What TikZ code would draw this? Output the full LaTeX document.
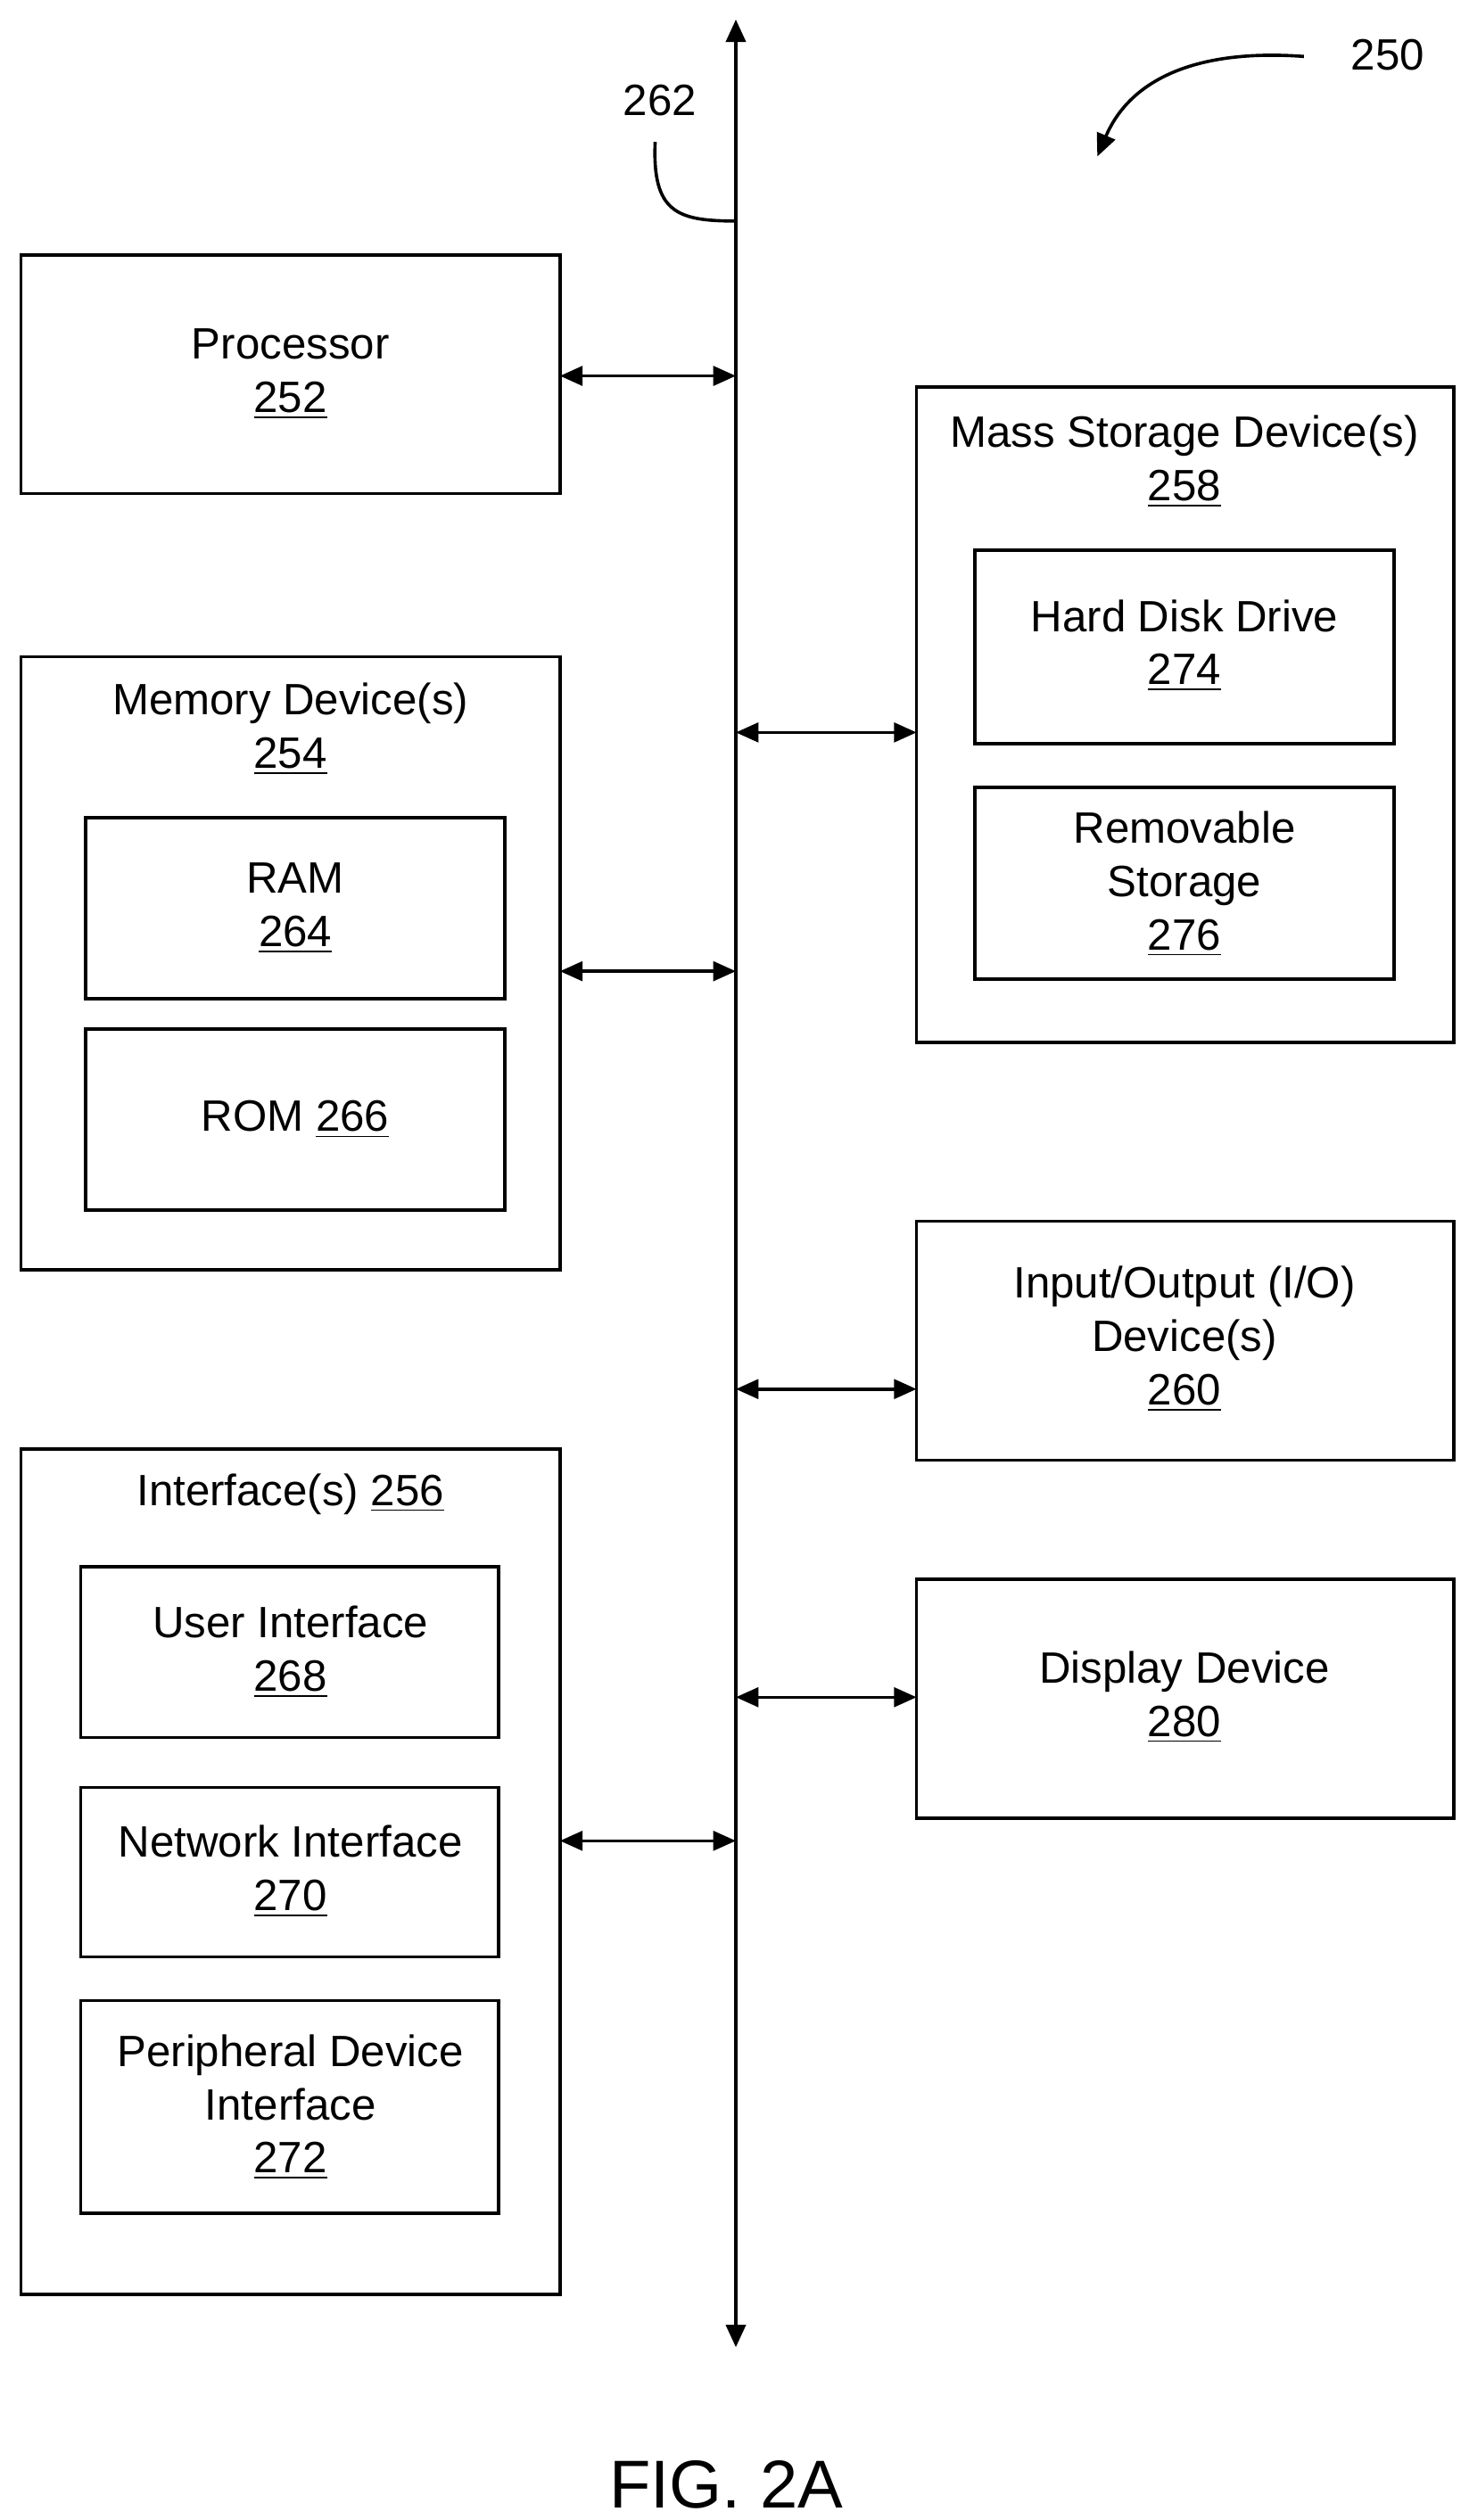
\documentclass[tikz,border=0pt]{standalone}
\usepackage{fontspec}
\setmainfont{Liberation Sans}
\usetikzlibrary{arrows.meta,fit}
\tikzset{
  box/.style={draw, line width=1pt, inner sep=0pt},
  lbl/.style={font=\fontsize{13.6}{16.5}\selectfont, align=center, inner sep=0pt},
  tip/.style={Triangle[length=7pt,width=6pt]},
  link/.style={line width=1pt, {Triangle[length=7pt,width=6pt]}-{Triangle[length=7pt,width=6pt]}},
}
\begin{document}
\begin{tikzpicture}[x=0.5pt,y=-0.5pt]
\useasboundingbox (0,0) rectangle (910,1562);

% bus
\coordinate (bustop) at (456,12);
\coordinate (busbot) at (456,1455);
\draw [link, line width=1.3pt] (bustop) -- (busbot);
\node [lbl] (l262) at (409,62) {262};
\coordinate (c262) at (406,88);
\draw [line width=1pt] (c262) .. controls (404,132) and (420,137) .. (456,137);
\node [lbl] (l250) at (860,34) {250};
\coordinate (c250) at (808,35);
\draw [line width=1pt, -{Triangle[length=7pt,width=6pt]}] (c250) .. controls (740,30) and (700,50) .. (680,97);

% left column
\node [box, fit={(13,158)(347,306)}] (proc) {};
\node [lbl] at (180,232) {Processor\\\underline{252}};

\node [box, fit={(13,407)(347,787)}] (mem) {};
\node [lbl] at (180,452) {Memory Device(s)\\\underline{254}};
\node [box, fit={(53,507)(313,619)}] (ram) {};
\node [lbl] at (183,563) {RAM\\\underline{264}};
\node [box, fit={(53,638)(313,750)}] (rom) {};
\node [lbl] at (183,694) {ROM \underline{266}};

\node [box, fit={(13,898)(347,1422)}] (intf) {};
\node [lbl] at (180,926) {Interface(s) \underline{256}};
\node [box, fit={(50,971)(309,1077)}] (ui) {};
\node [lbl] at (180,1024) {User Interface\\\underline{268}};
\node [box, fit={(50,1108)(309,1213)}] (net) {};
\node [lbl] at (180,1160) {Network Interface\\\underline{270}};
\node [box, fit={(50,1240)(309,1372)}] (peri) {};
\node [lbl] at (180,1306) {Peripheral Device\\Interface\\\underline{272}};

% right column
\node [box, fit={(568,240)(901,646)}] (mass) {};
\node [lbl] at (734,286) {Mass Storage Device(s)\\\underline{258}};
\node [box, fit={(604,341)(864,461)}] (hdd) {};
\node [lbl] at (734,400) {Hard Disk Drive\\\underline{274}};
\node [box, fit={(604,488)(864,607)}] (rem) {};
\node [lbl] at (734,548) {Removable\\Storage\\\underline{276}};

\node [box, fit={(568,757)(901,905)}] (io) {};
\node [lbl] at (734,830) {Input/Output (I/O)\\Device(s)\\\underline{260}};

\node [box, fit={(568,979)(901,1127)}] (disp) {};
\node [lbl] at (734,1052) {Display Device\\\underline{280}};

% links to bus
\draw [link] (347,233) coordinate (p1) -- (p1 -| bustop);
\draw [link] (347,602) coordinate (p2) -- (p2 -| bustop);
\draw [link] (347,1141) coordinate (p3) -- (p3 -| bustop);
\draw [link] (568,454) coordinate (p4) -- (p4 -| bustop);
\draw [link] (568,861) coordinate (p5) -- (p5 -| bustop);
\draw [link] (568,1052) coordinate (p6) -- (p6 -| bustop);

\node [font=\fontsize{21}{24}\selectfont, inner sep=0pt] (fig) at (450,1540) {FIG. 2A};
\end{tikzpicture}
\end{document}
